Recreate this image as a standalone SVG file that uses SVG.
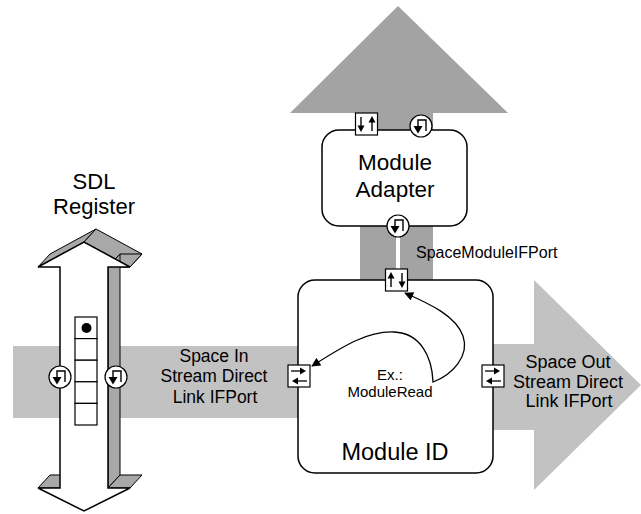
<svg xmlns="http://www.w3.org/2000/svg" width="641" height="514" viewBox="0 0 641 514">
  <style>
    .lbl { font-family: "Liberation Sans", Arial, sans-serif; fill: #000; text-anchor: middle; }
    .box { fill: #fff; stroke: #000; stroke-width: 1.5; }
    .port { fill: #fff; stroke: #000; stroke-width: 1.2; }
    .glyph { fill: none; stroke: #000; stroke-width: 1.4; }
    .head { fill: #000; stroke: none; }
    .flow-dark { fill: #a3a3a3; }
    .flow-light { fill: #c2c2c2; }
    .edge { fill: #a8a8a8; stroke: #000; stroke-width: 1; stroke-linejoin: round; }
    .face { fill: #fff; stroke: #000; stroke-width: 1.5; stroke-linejoin: miter; }
    .conn { fill: none; stroke: #000; stroke-width: 1.3; }
  </style>
  <defs>
    <marker id="tip" viewBox="0 0 10 10" refX="9" refY="5" markerWidth="10" markerHeight="9" markerUnits="userSpaceOnUse" orient="auto-start-reverse">
      <path d="M0 0 L10 5 L0 10 z" fill="#000"/>
    </marker>
    <!-- small vertical arrow pointing down, centred on origin -->
    <g id="dn">
      <line x1="0" y1="-7" x2="0" y2="3" stroke="#000" stroke-width="1.4"/>
      <polygon class="head" points="-3.5,1.5 3.5,1.5 0,8"/>
    </g>
    <!-- small horizontal arrow pointing right, centred on origin -->
    <g id="rt">
      <line x1="-8" y1="0" x2="2" y2="0" stroke="#000" stroke-width="1.3"/>
      <polygon class="head" points="1,-3.5 1,3.5 7,0"/>
    </g>
    <!-- circular interface port -->
    <g id="cport">
      <circle class="port" r="11"/>
      <path class="glyph" d="M5 5 V-6 H-3 V1"/>
      <polygon class="head" points="-7.5,0 1.5,0 -3,7.5"/>
    </g>
    <!-- square port, down + up -->
    <g id="bport-du">
      <rect class="port" x="-11" y="-11" width="22" height="22"/>
      <use href="#dn" x="-5.5" y="0"/>
      <use href="#dn" transform="translate(5.5 0) rotate(180)"/>
    </g>
    <!-- square port, up + down -->
    <g id="bport-ud">
      <rect class="port" x="-11" y="-11" width="22" height="22"/>
      <use href="#dn" transform="translate(-5.5 0) rotate(180)"/>
      <use href="#dn" x="5.5" y="0"/>
    </g>
    <!-- square port, right over left -->
    <g id="bport-rl">
      <rect class="port" x="-11" y="-11" width="22" height="22"/>
      <use href="#rt" x="0" y="-5"/>
      <use href="#rt" transform="translate(0 5) rotate(180)"/>
    </g>
  </defs>

  <!-- data flows (background) -->
  <g id="flows">
    <polygon id="flow-up" class="flow-dark" points="290,113 398,6 508,113 433,113 433,280 360,280 360,113"/>
    <rect id="flow-in" class="flow-light" x="13" y="346" width="287" height="72"/>
    <polygon id="flow-out" class="flow-light" points="490,344 534,344 534,280 641,385 534,490 534,430 490,430"/>
  </g>

  <!-- SDL register: extruded double arrow -->
  <g id="sdl-register">
    <polygon class="edge" points="38,267 84,242 96,229 50,254"/>
    <polygon class="edge" points="84,242 130,267 142,254 96,229"/>
    <polygon class="edge" points="130,267 108,267 120,254 142,254"/>
    <polygon class="edge" points="108,267 108,488 120,475 120,254"/>
    <polygon class="edge" points="108,488 130,488 142,475 120,475"/>
    <polygon class="edge" points="60,488 38,488 50,475 72,475"/>
    <polygon class="face" points="60,267 38,267 84,242 130,267 108,267 108,488 130,488 84,511 38,488 60,488"/>
    <g id="register-cells" fill="#fff" stroke="#000" stroke-width="1.2">
      <rect x="75" y="317" width="22" height="21.6"/>
      <rect x="75" y="338.6" width="22" height="21.6"/>
      <rect x="75" y="360.2" width="22" height="21.6"/>
      <rect x="75" y="381.8" width="22" height="21.6"/>
      <rect x="75" y="403.4" width="22" height="21.6"/>
    </g>
    <circle cx="86.5" cy="328" r="5" fill="#000"/>
    <use href="#cport" x="60" y="377"/>
    <use href="#cport" x="116" y="377"/>
    <text class="lbl" x="94" y="189" font-size="22">SDL</text>
    <text class="lbl" x="94" y="214" font-size="22">Register</text>
  </g>

  <!-- Module Adapter -->
  <g id="module-adapter">
    <rect class="box" x="322" y="130" width="145" height="96" rx="17"/>
    <text class="lbl" x="395" y="170" font-size="22.5">Module</text>
    <text class="lbl" x="395" y="197" font-size="22.5">Adapter</text>
    <use href="#bport-du" x="366.5" y="124"/>
    <use href="#cport" x="421" y="126"/>
  </g>

  <!-- Module ID -->
  <g id="module-id">
    <rect class="box" x="298" y="280" width="195" height="193" rx="17"/>
    <text class="lbl" x="390" y="380" font-size="15">Ex.:</text>
    <text class="lbl" x="390" y="397" font-size="15">ModuleRead</text>
    <text class="lbl" x="395" y="460" font-size="23.5">Module ID</text>
  </g>

  <!-- links: adapter-to-module line and the ModuleRead path -->
  <g id="connectors">
    <rect x="396" y="237" width="4" height="32" fill="#fff"/>
    <path class="conn" marker-start="url(#tip)" marker-end="url(#tip)" d="M312 366 C345 345 368 331 394 332 C420 333 432 356 433 382 C452 375 470 356 463 336 C456 316 430 304 405 293"/>
  </g>

  <!-- ports sitting on the box outlines -->
  <g id="ports">
    <use href="#cport" x="398" y="226"/>
    <use href="#bport-ud" x="396.5" y="280"/>
    <use href="#bport-rl" x="299" y="376"/>
    <use href="#bport-rl" x="493" y="376"/>
  </g>

  <!-- flow labels -->
  <g id="labels">
    <text class="lbl" x="416" y="258" font-size="16" style="text-anchor:start">SpaceModuleIFPort</text>
    <text class="lbl" x="214" y="362" font-size="17.5">Space In</text>
    <text class="lbl" x="214" y="382" font-size="17.5">Stream Direct</text>
    <text class="lbl" x="215" y="403" font-size="17.5">Link IFPort</text>
    <text class="lbl" x="568" y="368" font-size="18">Space Out</text>
    <text class="lbl" x="568" y="388" font-size="18">Stream Direct</text>
    <text class="lbl" x="569" y="407" font-size="18">Link IFPort</text>
  </g>
</svg>
